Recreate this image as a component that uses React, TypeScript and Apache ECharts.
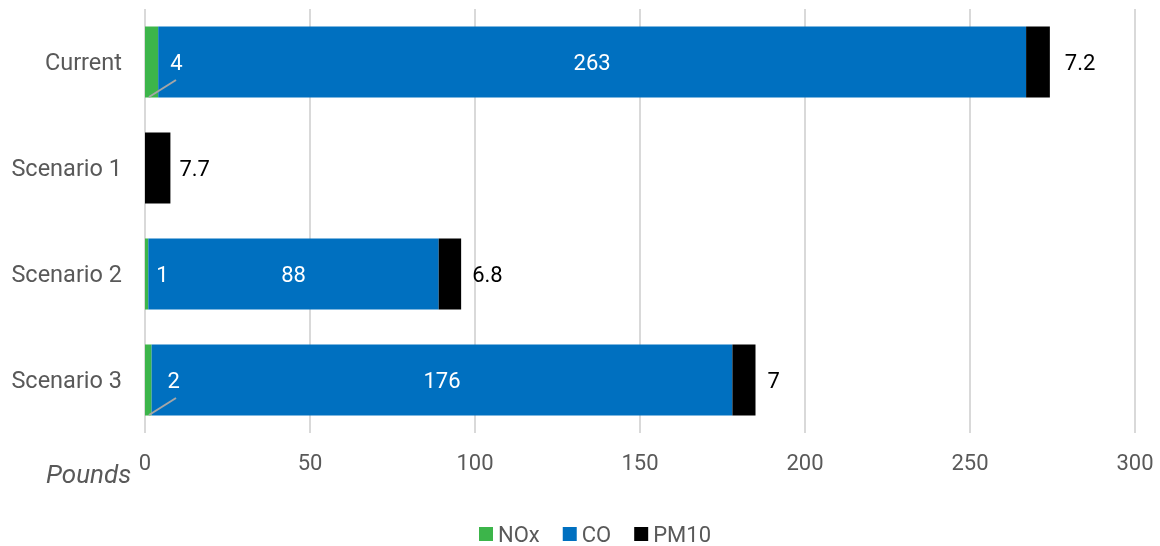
import React, { useEffect, useRef } from "react";
import * as echarts from "echarts";

const categories = ["Current", "Scenario 1", "Scenario 2", "Scenario 3"];
const noxValues = [4, 0, 1, 2];
const coValues = [263, 0, 88, 176];
const pm10Values = [7.2, 7.7, 6.8, 7];
const xTicks = [0, 50, 100, 150, 200, 250, 300];
const noxLabelDistance = [12, 8, 8, 16];
const pm10LabelDistance = [15, 9, 11, 12];
const leaderCategories = ["Current", "Scenario 3"];

const FONT = "Roboto";
const GRAY = "#595959";

export default function App() {
  const ref = useRef<HTMLDivElement>(null);
  useEffect(() => {
    if (!ref.current) return;
    const chart = echarts.init(ref.current, undefined, { renderer: "svg" });
    const leaderData = leaderCategories.map((c) => {
      const i = categories.indexOf(c);
      return [noxValues[i], c];
    });
    chart.setOption({
      animation: false,
      textStyle: { fontFamily: FONT },
      grid: { left: 145, right: 25, top: 9, bottom: 113, containLabel: false },
      xAxis: {
        type: "value",
        min: xTicks[0],
        max: xTicks[xTicks.length - 1],
        interval: 50,
        axisLine: { show: false },
        axisTick: { show: false },
        splitLine: { lineStyle: { color: "#d9d9d9", width: 2 } },
        axisLabel: { color: GRAY, fontSize: 22, fontFamily: FONT, margin: 18 },
      },
      yAxis: {
        type: "category",
        data: categories,
        inverse: true,
        axisLine: { show: false },
        axisTick: { show: false },
        axisLabel: { color: GRAY, fontSize: 23.5, fontFamily: FONT, margin: 23 },
      },
      legend: {
        bottom: 0,
        left: 479,
        padding: 0,
        itemWidth: 14,
        itemHeight: 14,
        itemGap: 23,
        icon: "rect",
        textStyle: { color: GRAY, fontSize: 22, fontFamily: FONT, lineHeight: 24 },
        data: ["NOx", "CO", "PM10"],
      },
      graphic: [
        {
          type: "text",
          left: 46,
          top: 461,
          style: { text: "Pounds", fontSize: 26, fontStyle: "italic", fill: GRAY, fontFamily: FONT },
        },
      ],
      series: [
        {
          name: "NOx",
          type: "bar",
          stack: "total",
          barCategoryGap: "33%",
          itemStyle: { color: "#3cb54a" },
          data: noxValues.map((v, i) => ({
            value: v,
            label: {
              show: v > 0,
              position: "right",
              distance: noxLabelDistance[i],
              color: "#ffffff",
              fontSize: 22,
              fontFamily: FONT,
            },
          })),
        },
        {
          name: "CO",
          type: "bar",
          stack: "total",
          itemStyle: { color: "#0070c0" },
          label: {
            show: true,
            position: "inside",
            color: "#ffffff",
            fontSize: 22,
            fontFamily: FONT,
            formatter: (p: any) => (p.value > 0 ? String(p.value) : ""),
          },
          data: coValues,
        },
        {
          name: "PM10",
          type: "bar",
          stack: "total",
          itemStyle: { color: "#000000" },
          data: pm10Values.map((v, i) => ({
            value: v,
            label: {
              show: true,
              position: "right",
              distance: pm10LabelDistance[i],
              color: "#000000",
              fontSize: 22,
              fontFamily: FONT,
            },
          })),
        },
        {
          type: "custom",
          silent: true,
          z: 5,
          encode: { x: 0, y: 1 },
          data: leaderData,
          renderItem: (params: any, api: any) => {
            const p = api.coord([0, api.value(1)]);
            const band = api.size([0, 1])[1];
            const barH = band * 0.67;
            const y0 = p[1] + barH / 2 - 0.5;
            return {
              type: "line",
              shape: { x1: p[0] + 4, y1: y0, x2: p[0] + 31, y2: y0 - 17 },
              style: { stroke: "#a6a6a6", lineWidth: 2 },
            };
          },
        },
      ],
    });
    return () => chart.dispose();
  }, []);
  return (
    <div
      ref={ref}
      style={{ position: "fixed", left: 0, top: 0, width: 1160, height: 546 }}
    />
  );
}
